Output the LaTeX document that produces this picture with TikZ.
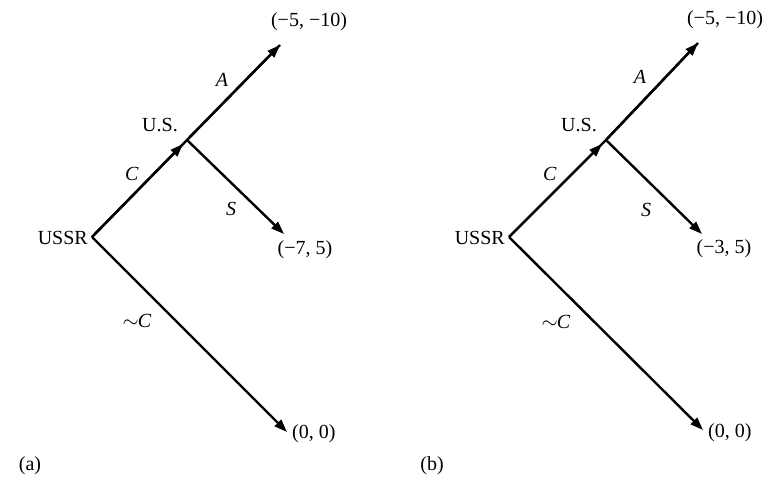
\documentclass[tikz,border=0pt]{standalone}
\usepackage{fontspec}
\setmainfont{Liberation Serif}
\usetikzlibrary{arrows.meta}
\begin{document}
\begin{tikzpicture}[x=1pt,y=-1pt,
  edge/.style={line width=2.4pt,-{Triangle[length=13pt,width=9pt]}},
  plain/.style={line width=2.4pt},
  lab/.style={inner sep=0pt,font=\fontsize{20}{22}\selectfont},
  every node/.style={lab}]
\useasboundingbox (0,0) rectangle (775,490);
% ---------- tree (a)
\coordinate (a0) at (92,237);
\coordinate (a1) at (187,140);
\coordinate (aA) at (280,45);
\coordinate (aS) at (284,234);
\coordinate (aN) at (287,432);
\coordinate (a1s) at (183,144);
\draw[plain] (a0) -- (a1) -- (aA);
\draw[edge] (a0) -- (a1s);
\draw[edge] (a1) -- (aA);
\draw[edge] (a1) -- (aS);
\draw[edge] (a0) -- (aN);
\node (aussr) [anchor=east] at (88,238) {USSR};
\node (aus) at (160,125) {U.S.};
\node (aC) at (132,174) {\textit{C}};
\node (aAl) at (222,80) {\textit{A}};
\node (aSl) at (231,209) {\textit{S}};
\node (aNl) at (137,321) {$\sim$\kern-1pt\textit{C}};
\node (aP1) at (309,22) {(−5, −10)};
\node (aP2) at (305,250) {(−7, 5)};
\node (aP3) [anchor=west] at (292,434) {(0, 0)};
\node (alab) at (30,466) {(a)};
% ---------- tree (b)
\coordinate (b0) at (509,237);
\coordinate (b1) at (606,140);
\coordinate (bA) at (698,43);
\coordinate (bS) at (702,234);
\coordinate (bN) at (703,430);
\coordinate (b1s) at (602,144);
\draw[plain] (b0) -- (b1) -- (bA);
\draw[edge] (b0) -- (b1s);
\draw[edge] (b1) -- (bA);
\draw[edge] (b1) -- (bS);
\draw[edge] (b0) -- (bN);
\node (bussr) [anchor=east] at (505,238) {USSR};
\node (bus) at (579,125) {U.S.};
\node (bC) at (550,174) {\textit{C}};
\node (bAl) at (640,77) {\textit{A}};
\node (bSl) at (646,210) {\textit{S}};
\node (bNl) at (556,322) {$\sim$\kern-1pt\textit{C}};
\node (bP1) at (725,20) {(−5, −10)};
\node (bP2) at (724,249) {(−3, 5)};
\node (bP3) [anchor=west] at (708,433) {(0, 0)};
\node (blab) at (432,466) {(b)};
\end{tikzpicture}
\end{document}
